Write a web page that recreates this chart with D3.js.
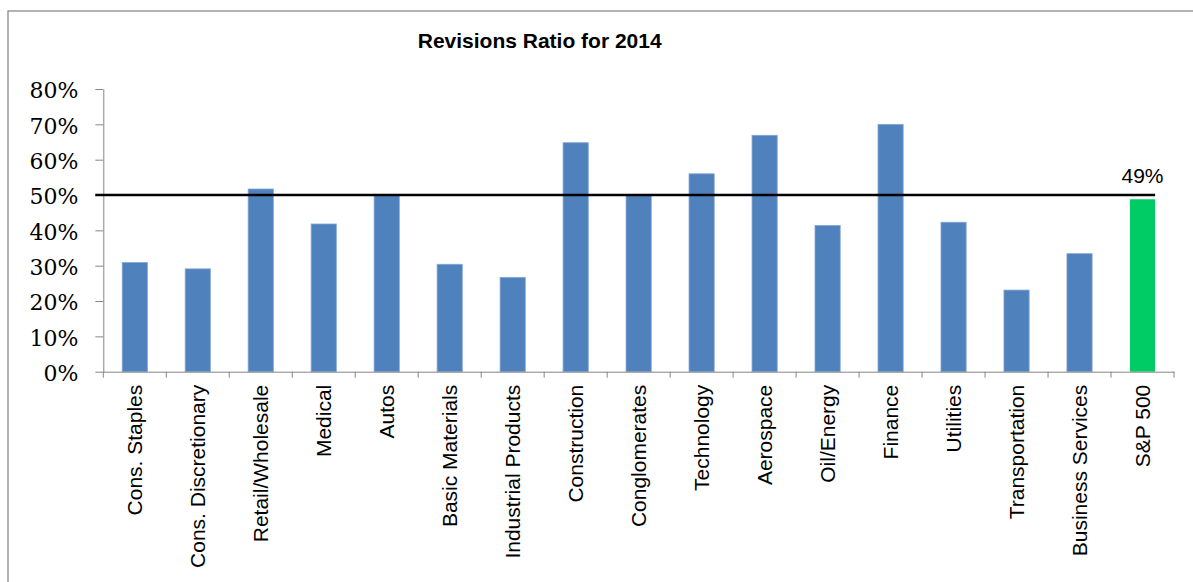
<!DOCTYPE html>
<html>
<head>
<meta charset="utf-8">
<script src="https://cdn.jsdelivr.net/npm/d3@7"></script>
<style>
  html, body { margin: 0; padding: 0; background: #fff; }
  svg { display: block; }
</style>
</head>
<body>
<div id="chart"></div>
<script>
// 数据
const categories = [
    'Cons. Staples', 'Cons. Discretionary', 'Retail/Wholesale', 'Medical', 'Autos',
    'Basic Materials', 'Industrial Products', 'Construction', 'Conglomerates',
    'Technology', 'Aerospace', 'Oil/Energy', 'Finance', 'Utilities',
    'Transportation', 'Business Services', 'S&P 500'
];
const ratios = [30.9, 29.1, 51.7, 41.8, 49.8, 30.4, 26.7, 64.8, 49.9, 56.0, 66.9, 41.4, 70.0, 42.3, 23.1, 33.4, 48.8];
const yTicks = [0, 10, 20, 30, 40, 50, 60, 70, 80];
const benchmark = 50;
const highlight = 'S&P 500';
const title = 'Revisions Ratio for 2014';

const width = 1193;
const height = 582;
const margin = { top: 89, right: 19, bottom: 210, left: 103.3 };

const svg = d3.select('#chart')
    .append('svg')
    .attr('width', width)
    .attr('height', height);

// 外框
svg.append('rect')
    .attr('x', 8)
    .attr('y', 11)
    .attr('width', 1300)
    .attr('height', 700)
    .attr('fill', 'none')
    .attr('stroke', '#8c8c8c')
    .attr('stroke-width', 1.3);

// 比例尺
const x = d3.scaleBand()
    .domain(categories)
    .range([margin.left, width - margin.right])
    .paddingInner(0.6)
    .paddingOuter(0.3);

const y = d3.scaleLinear()
    .domain([0, 80])
    .range([371.7, margin.top]);

// 标题
svg.append('text')
    .attr('x', 539.7)
    .attr('y', 47.5)
    .attr('text-anchor', 'middle')
    .attr('font-family', 'Arial, "Liberation Sans", sans-serif')
    .attr('font-weight', 'bold')
    .attr('font-size', 21)
    .attr('fill', '#000')
    .text(title);

// Y轴
const yAxis = svg.append('g')
    .attr('transform', `translate(${margin.left},0)`)
    .call(d3.axisLeft(y).tickValues(yTicks).tickSize(8).tickSizeOuter(0).tickPadding(17).tickFormat(d => d + '%'));
yAxis.select('.domain').attr('stroke', '#868686');
yAxis.selectAll('.tick line').attr('stroke', '#868686');
yAxis.selectAll('.tick text')
    .attr('font-family', '"DejaVu Serif", serif')
    .attr('font-size', 22)
    .attr('dy', '0.4em')
    .attr('fill', '#000');

// 柱子
svg.append('g')
    .selectAll('rect')
    .data(categories)
    .join('rect')
    .attr('x', d => x(d))
    .attr('y', (d, i) => y(ratios[i]))
    .attr('width', x.bandwidth())
    .attr('height', (d, i) => y(0) - y(ratios[i]))
    .attr('fill', d => d === highlight ? '#00CC66' : '#4F81BD')
    .attr('stroke', d => d === highlight ? 'none' : '#86A6D4')
    .attr('stroke-width', 0.8);

// X轴
const baseY = y(0);
const xAxis = svg.append('g')
    .attr('transform', `translate(0,${baseY})`)
    .call(d3.axisBottom(x).tickSize(0).tickSizeOuter(0));
xAxis.select('.domain').attr('stroke', '#868686');
xAxis.selectAll('.tick text')
    .attr('transform', 'rotate(-90)')
    .attr('x', -13)
    .attr('y', 0)
    .attr('dy', '0.36em')
    .attr('text-anchor', 'end')
    .attr('font-family', 'Arial, "Liberation Sans", sans-serif')
    .attr('font-size', 21)
    .attr('fill', '#000');

// 类别分隔刻度
const boundaries = d3.range(categories.length + 1).map(i => x.range()[0] + i * x.step());
xAxis.append('g')
    .selectAll('line')
    .data(boundaries)
    .join('line')
    .attr('x1', d => d)
    .attr('x2', d => d)
    .attr('y1', 0)
    .attr('y2', 6)
    .attr('stroke', '#868686');

// 基准线
svg.append('line')
    .attr('x1', margin.left - 8)
    .attr('x2', x(highlight) + x.bandwidth())
    .attr('y1', y(benchmark))
    .attr('y2', y(benchmark))
    .attr('stroke', '#000')
    .attr('stroke-width', 2.3);

// S&P 500 数据标签
const hi = categories.indexOf(highlight);
svg.append('text')
    .attr('x', x(highlight) + x.bandwidth() / 2)
    .attr('y', 183.3)
    .attr('text-anchor', 'middle')
    .attr('font-family', 'Arial, "Liberation Sans", sans-serif')
    .attr('font-size', 21)
    .attr('fill', '#000')
    .text(Math.round(ratios[hi]) + '%');
</script>
</body>
</html>
